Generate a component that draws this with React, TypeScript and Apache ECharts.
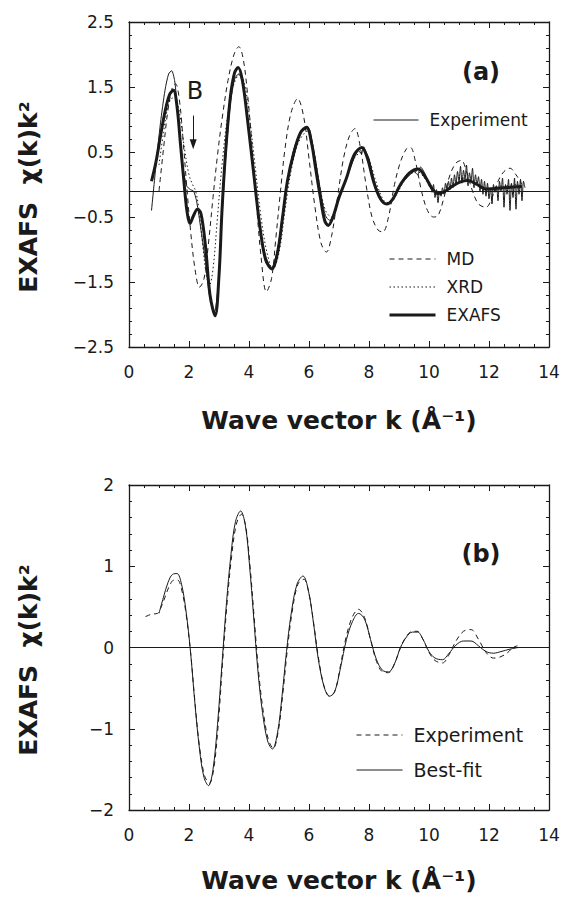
import React, { useEffect, useRef } from "react";
import * as echarts from "echarts";

const INK = "#1a1a1a";
const FONT = '"DejaVu Sans", "Liberation Sans", sans-serif';

// ---- panel (a) data: [k, chi(k)k^2]
const expA: number[][] = [
  [0.75, -0.4], [0.9, 0.3], [1.05, 0.95], [1.2, 1.45], [1.32, 1.7], [1.42, 1.75], [1.52, 1.6], [1.62, 1.15],
  [1.72, 0.6], [1.82, 0.2], [1.92, -0.02], [2.05, -0.08], [2.15, -0.1], [2.25, -0.25], [2.4, -0.7], [2.55, -1.2],
  [2.7, -1.75], [2.85, -1.95], [2.98, -1.5], [3.1, -0.5], [3.22, 0.4], [3.38, 1.25], [3.52, 1.62], [3.65, 1.7],
  [3.8, 1.55], [3.95, 1.0], [4.15, 0.15], [4.35, -0.6], [4.55, -1.1], [4.75, -1.28], [4.95, -1.0], [5.12, -0.45],
  [5.3, 0.1], [5.5, 0.55], [5.75, 0.82], [5.98, 0.86], [6.12, 0.62], [6.28, 0.2], [6.42, -0.2], [6.55, -0.48],
  [6.68, -0.55], [6.85, -0.45], [7.05, -0.12], [7.3, 0.15], [7.5, 0.4], [7.65, 0.52], [7.75, 0.47], [7.82, 0.58],
  [7.9, 0.5], [8.0, 0.4], [8.2, 0.02], [8.4, -0.22], [8.6, -0.3], [8.8, -0.2], [9.05, 0.0], [9.3, 0.12],
  [9.5, 0.2], [9.62, 0.15], [9.72, 0.27], [9.85, 0.18], [10.0, 0.02],
  [10.05, -0.02], [10.1, -0.12], [10.15, 0.0], [10.2, -0.2], [10.25, -0.08], [10.3, -0.28], [10.35, -0.1],
  [10.4, -0.18], [10.45, -0.05], [10.5, -0.15], [10.55, 0.02], [10.6, -0.1], [10.65, 0.05], [10.7, -0.08],
  [10.75, 0.1], [10.8, -0.05], [10.85, 0.15], [10.9, 0.0], [10.95, 0.2], [11.0, 0.05], [11.05, 0.28],
  [11.1, 0.02], [11.15, 0.22], [11.2, 0.08], [11.25, 0.3], [11.3, -0.02], [11.35, 0.18], [11.4, 0.05],
  [11.45, 0.25], [11.5, -0.05], [11.55, 0.15], [11.6, 0.0], [11.65, 0.12], [11.7, -0.1], [11.75, 0.08],
  [11.8, -0.15], [11.85, 0.05], [11.9, -0.18], [11.95, 0.02], [12.0, -0.22], [12.05, -0.05], [12.1, -0.3],
  [12.15, 0.0], [12.2, -0.12], [12.25, -0.02], [12.3, -0.25], [12.35, 0.05], [12.4, -0.1], [12.45, 0.1],
  [12.5, -0.35], [12.55, 0.0], [12.6, -0.15], [12.65, 0.08], [12.7, -0.4], [12.75, 0.02], [12.8, -0.2],
  [12.85, 0.1], [12.9, -0.38], [12.95, 0.05], [13.0, -0.15], [13.05, 0.08], [13.1, -0.25], [13.15, 0.05],
  [13.2, -0.05],
];

const mdA: number[][] = [
  [1.0, -0.1], [1.15, 0.55], [1.3, 1.15], [1.45, 1.5], [1.55, 1.55], [1.68, 1.3], [1.8, 0.7], [1.92, 0.0],
  [2.05, -0.7], [2.2, -1.3], [2.35, -1.58], [2.5, -1.45], [2.65, -0.9], [2.8, -0.2], [2.95, 0.45], [3.1, 1.0],
  [3.3, 1.6], [3.5, 2.0], [3.66, 2.12], [3.8, 1.95], [3.95, 1.4], [4.1, 0.6], [4.25, -0.3], [4.4, -1.1],
  [4.58, -1.65], [4.75, -1.45], [4.9, -0.8], [5.05, -0.1], [5.2, 0.55], [5.4, 1.1], [5.62, 1.32], [5.82, 1.05],
  [6.0, 0.4], [6.2, -0.35], [6.4, -0.9], [6.58, -1.04], [6.75, -0.8], [6.95, -0.2], [7.15, 0.4], [7.35, 0.75],
  [7.53, 0.86], [7.7, 0.6], [7.9, 0.0], [8.1, -0.5], [8.3, -0.7], [8.46, -0.73], [8.65, -0.5], [8.85, 0.0],
  [9.05, 0.35], [9.25, 0.55], [9.38, 0.57], [9.55, 0.35], [9.75, -0.1], [9.95, -0.4], [10.15, -0.5],
  [10.3, -0.48], [10.5, -0.2], [10.7, 0.15], [10.9, 0.33], [11.08, 0.37], [11.25, 0.2], [11.45, -0.1],
  [11.65, -0.3], [11.9, -0.35], [12.1, -0.2], [12.3, 0.05], [12.5, 0.2], [12.7, 0.25], [12.9, 0.15], [13.1, 0.0],
];

const xrdA: number[][] = [
  [1.0, 0.3], [1.15, 0.8], [1.3, 1.2], [1.45, 1.33], [1.58, 1.3], [1.72, 1.0], [1.85, 0.55], [2.0, 0.15],
  [2.12, 0.0], [2.22, -0.1], [2.32, -0.35], [2.45, -0.9], [2.58, -1.4], [2.68, -1.55], [2.8, -1.3], [2.95, -0.5],
  [3.1, 0.3], [3.3, 1.1], [3.5, 1.55], [3.7, 1.7], [3.85, 1.55], [4.0, 1.1], [4.2, 0.3], [4.4, -0.5],
  [4.6, -1.05], [4.8, -1.3], [5.0, -1.05], [5.2, -0.4], [5.4, 0.2], [5.65, 0.65], [5.95, 0.82], [6.15, 0.55],
  [6.35, 0.0], [6.55, -0.4], [6.75, -0.5], [6.95, -0.3], [7.2, 0.05], [7.5, 0.4], [7.8, 0.5], [8.0, 0.38],
  [8.25, 0.02], [8.5, -0.25], [8.7, -0.28], [8.95, -0.12], [9.25, 0.1], [9.6, 0.2], [9.85, 0.1], [10.1, -0.08],
  [10.4, -0.15], [10.75, -0.02], [11.1, 0.1], [11.45, 0.05], [11.8, -0.05], [12.2, -0.1], [12.6, -0.02], [13.0, 0.0],
];

const exafsA: number[][] = [
  [0.75, 0.05], [0.9, 0.35], [1.05, 0.75], [1.2, 1.12], [1.35, 1.38], [1.48, 1.45], [1.6, 1.2], [1.72, 0.6],
  [1.83, 0.05], [1.93, -0.4], [2.03, -0.6], [2.15, -0.48], [2.28, -0.38], [2.4, -0.45], [2.55, -0.95], [2.7, -1.7],
  [2.87, -2.02], [3.0, -1.4], [3.1, -0.4], [3.22, 0.5], [3.38, 1.35], [3.52, 1.72], [3.64, 1.8], [3.78, 1.6],
  [3.95, 1.0], [4.15, 0.2], [4.35, -0.6], [4.55, -1.15], [4.76, -1.3], [4.95, -1.05], [5.12, -0.5], [5.28, 0.05],
  [5.5, 0.5], [5.72, 0.8], [5.92, 0.88], [6.08, 0.65], [6.22, 0.25], [6.38, -0.2], [6.52, -0.55], [6.64, -0.63],
  [6.8, -0.5], [7.0, -0.2], [7.25, 0.1], [7.5, 0.45], [7.76, 0.57], [7.95, 0.4], [8.15, 0.05], [8.38, -0.22],
  [8.59, -0.3], [8.8, -0.22], [9.05, 0.0], [9.35, 0.18], [9.64, 0.24], [9.9, 0.1], [10.1, -0.06], [10.3, -0.14],
  [10.55, -0.1], [10.8, -0.02], [11.05, 0.04], [11.3, 0.06], [11.6, 0.0], [11.9, -0.07], [12.2, -0.06],
  [12.5, -0.05], [12.8, -0.04], [13.1, -0.03],
];

// ---- panel (b) data
const expB: number[][] = [
  [0.55, 0.38], [0.75, 0.41], [0.95, 0.42], [1.05, 0.48], [1.2, 0.62], [1.35, 0.76], [1.5, 0.83], [1.62, 0.83],
  [1.75, 0.72], [1.9, 0.42], [2.05, -0.05], [2.2, -0.68], [2.35, -1.22], [2.52, -1.58], [2.68, -1.67], [2.83, -1.48],
  [2.98, -0.92], [3.12, -0.18], [3.27, 0.55], [3.42, 1.12], [3.58, 1.52], [3.75, 1.64], [3.9, 1.47], [4.04, 0.98],
  [4.17, 0.38], [4.32, -0.3], [4.48, -0.8], [4.65, -1.14], [4.81, -1.24], [4.98, -1.02], [5.13, -0.56], [5.28, -0.02],
  [5.43, 0.42], [5.63, 0.78], [5.83, 0.84], [6.0, 0.66], [6.17, 0.26], [6.33, -0.16], [6.52, -0.5], [6.7, -0.6],
  [6.88, -0.52], [7.05, -0.22], [7.25, 0.15], [7.45, 0.38], [7.65, 0.47], [7.85, 0.37], [8.05, 0.1], [8.25, -0.17],
  [8.45, -0.3], [8.65, -0.31], [8.85, -0.2], [9.05, 0.0], [9.25, 0.14], [9.45, 0.2], [9.6, 0.2], [9.8, 0.1],
  [10.0, -0.06], [10.2, -0.16], [10.45, -0.19], [10.65, -0.1], [10.9, 0.08], [11.15, 0.2], [11.4, 0.22],
  [11.65, 0.1], [11.9, -0.06], [12.15, -0.13], [12.35, -0.12], [12.6, -0.07], [12.8, 0.0], [12.95, 0.02],
];

const fitB: number[][] = [
  [1.0, 0.42], [1.15, 0.62], [1.3, 0.8], [1.45, 0.9], [1.6, 0.91], [1.75, 0.78], [1.9, 0.45], [2.05, -0.05],
  [2.2, -0.7], [2.35, -1.25], [2.5, -1.6], [2.65, -1.7], [2.8, -1.5], [2.95, -0.95], [3.1, -0.2], [3.25, 0.55],
  [3.4, 1.15], [3.55, 1.55], [3.72, 1.68], [3.88, 1.5], [4.02, 1.0], [4.15, 0.4], [4.3, -0.3], [4.45, -0.8],
  [4.62, -1.15], [4.78, -1.25], [4.95, -1.05], [5.1, -0.6], [5.25, -0.05], [5.4, 0.4], [5.6, 0.78], [5.8, 0.88],
  [5.98, 0.7], [6.15, 0.3], [6.3, -0.12], [6.5, -0.48], [6.68, -0.6], [6.85, -0.55], [7.05, -0.25], [7.25, 0.1],
  [7.45, 0.32], [7.65, 0.42], [7.85, 0.35], [8.05, 0.1], [8.25, -0.15], [8.45, -0.28], [8.65, -0.3], [8.85, -0.2],
  [9.05, 0.0], [9.25, 0.13], [9.45, 0.19], [9.62, 0.19], [9.8, 0.1], [10.0, -0.05], [10.2, -0.13], [10.45, -0.15],
  [10.65, -0.08], [10.9, 0.03], [11.15, 0.08], [11.4, 0.08], [11.65, 0.02], [11.9, -0.05], [12.15, -0.07],
  [12.4, -0.05], [12.7, -0.02], [12.98, 0.0],
];

// reference lines and annotation (data units)
const baseA = -0.1;
const baseB = 0;
const arrowB = [[2.14, 1.06], [2.14, 0.62]];

const xRange = [0, 14];
const yRangeA = [-2.5, 2.5];
const yRangeB = [-2, 2];

const fmtY1 = (v: number) => (v < 0 ? "\u2212" + Math.abs(v).toFixed(1) : v.toFixed(1));
const fmtY0 = (v: number) => (v < 0 ? "\u2212" + Math.abs(v).toFixed(0) : v.toFixed(0));

function xAx(gridIndex: number, position: string, labels: boolean) {
  return {
    type: "value", gridIndex, position, min: xRange[0], max: xRange[1], interval: 2,
    axisLine: { show: true, onZero: false, lineStyle: { color: INK, width: 1.3 } },
    axisTick: { show: true, inside: true, length: 6, lineStyle: { color: INK, width: 1 } },
    minorTick: { show: true, splitNumber: 4, length: 3, lineStyle: { color: INK, width: 1 } },
    splitLine: { show: false }, minorSplitLine: { show: false },
    axisLabel: { show: labels, margin: 16, color: INK, fontSize: 17, fontFamily: FONT },
  };
}
function yAx(gridIndex: number, position: string, labels: boolean, range: number[], fmt: (v: number) => string) {
  return {
    type: "value", gridIndex, position, min: range[0], max: range[1], interval: 1,
    axisLine: { show: true, onZero: false, lineStyle: { color: INK, width: 1.3 } },
    axisTick: { show: true, inside: true, length: 6, lineStyle: { color: INK, width: 1 } },
    minorTick: { show: true, splitNumber: 5, length: 3, lineStyle: { color: INK, width: 1 } },
    splitLine: { show: false }, minorSplitLine: { show: false },
    axisLabel: { show: labels, margin: 15, color: INK, fontSize: 17, fontFamily: FONT, formatter: fmt },
  };
}

const lineSeries = (name: string, data: number[][], xi: number, yi: number, width: number, type: any, smooth: number, extra: any = {}) => ({
  name, type: "line", data, xAxisIndex: xi, yAxisIndex: yi, showSymbol: false, symbol: "none",
  smooth, silent: true, color: INK,
  lineStyle: { color: INK, width, type },
  ...extra,
});

export default function App() {
  const ref = useRef<HTMLDivElement>(null);
  useEffect(() => {
    document.body.style.margin = "0";
    const chart = echarts.init(ref.current!, null, { renderer: "svg" });
    const legendText = (size: number, lh: number) => ({
      color: INK, fontSize: size, fontFamily: FONT, lineHeight: lh, padding: [0, 0, 0, 6],
    });
    const legendCommon = {
      orient: "vertical", padding: 0, selectedMode: false,
      lineStyle: { width: "inherit" }, itemStyle: { opacity: 0, borderWidth: 0 },
    };
    const titleStyle = { fontSize: 25, fontWeight: "bold", fontFamily: FONT, fill: INK, align: "center", verticalAlign: "middle" };
    chart.setOption({
      animation: false,
      backgroundColor: "#ffffff",
      grid: [
        { left: 129, top: 22, width: 420, height: 325, show: false },
        { left: 129, top: 485, width: 420, height: 325, show: false },
      ],
      xAxis: [xAx(0, "bottom", true), xAx(0, "top", false), xAx(1, "bottom", true), xAx(1, "top", false)],
      yAxis: [
        yAx(0, "left", true, yRangeA, fmtY1), yAx(0, "right", false, yRangeA, fmtY1),
        yAx(1, "left", true, yRangeB, fmtY0), yAx(1, "right", false, yRangeB, fmtY0),
      ],
      legend: [
        {
          ...legendCommon, data: ["Experiment"], left: 373, top: 110,
          itemWidth: 45, itemHeight: 20, textStyle: legendText(17, 20),
        },
        {
          ...legendCommon, data: ["MD", "XRD", "EXAFS"], left: 388, top: 249,
          itemWidth: 46, itemHeight: 20, itemGap: 8, textStyle: legendText(17, 20),
        },
        {
          ...legendCommon,
          data: [
            { name: "Experiment", lineStyle: { type: [5, 4], width: 1 } },
            { name: "Best-fit" },
          ],
          left: 356, top: 724, itemWidth: 46, itemHeight: 22, itemGap: 13, textStyle: legendText(19, 22),
        },
      ],
      series: [
        lineSeries("Experiment", expA, 0, 0, 1, "solid", 0.25, {
          markLine: {
            silent: true, symbol: "none", label: { show: false },
            lineStyle: { color: INK, width: 1.2, type: "solid" },
            data: [{ yAxis: baseA }],
          },
        }),
        lineSeries("MD", mdA, 0, 0, 1, [5, 4], 0.35),
        lineSeries("XRD", xrdA, 0, 0, 1, [1.5, 2.5], 0.35),
        lineSeries("EXAFS", exafsA, 0, 0, 3, "solid", 0.35, {
          markLine: {
            silent: true, symbol: ["none", "triangle"], symbolSize: [7, 10], label: { show: false },
            lineStyle: { color: INK, width: 1, type: "solid" },
            data: [[{ coord: arrowB[0] }, { coord: arrowB[1] }]],
          },
        }),
        lineSeries("Experiment", expB, 2, 2, 1, [5, 4], 0.35, {
          markLine: {
            silent: true, symbol: "none", label: { show: false },
            lineStyle: { color: INK, width: 1.2, type: "solid" },
            data: [{ yAxis: baseB }],
          },
        }),
        lineSeries("Best-fit", fitB, 2, 2, 1, "solid", 0.35),
      ],
      graphic: [
        { type: "text", x: 28, y: 197, rotation: Math.PI / 2, style: { ...titleStyle, text: "EXAFS  χ(k)k²" } },
        { type: "text", x: 28, y: 660, rotation: Math.PI / 2, style: { ...titleStyle, text: "EXAFS  χ(k)k²" } },
        { type: "text", x: 339, y: 420, style: { ...titleStyle, text: "Wave vector k (Å⁻¹)" } },
        { type: "text", x: 339, y: 880, style: { ...titleStyle, text: "Wave vector k (Å⁻¹)" } },
        { type: "text", x: 481, y: 72, style: { ...titleStyle, fontSize: 24, text: "(a)" } },
        { type: "text", x: 481, y: 554, style: { ...titleStyle, fontSize: 24, text: "(b)" } },
        { type: "text", x: 195, y: 91, style: { ...titleStyle, fontSize: 24, fontWeight: "normal", text: "B" } },
      ],
    });
    return () => chart.dispose();
  }, []);
  return <div ref={ref} style={{ width: 564, height: 898 }} />;
}
